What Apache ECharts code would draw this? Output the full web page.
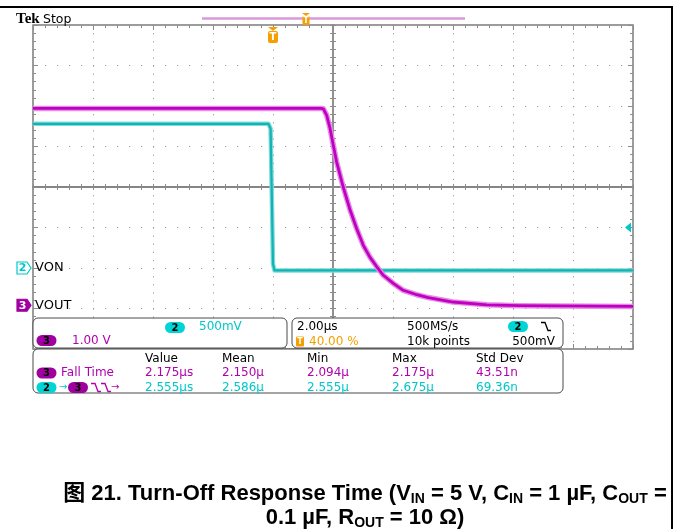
<!DOCTYPE html>
<html>
<head>
<meta charset="utf-8">
<title>Turn-Off Response Time</title>
<script src="https://cdn.jsdelivr.net/npm/echarts@6/dist/echarts.min.js"></script>
<style>
  html, body { margin: 0; padding: 0; background: #fff; }
  #scope { width: 677px; height: 529px; }
</style>
</head>
<body>
<div id="scope"></div>
<script>
// ch2 VON (time in us from trigger, volts)
const vonTime = [-8, -0.15, -0.08, -0.04, 0.0, 0.05, 12];
const vonVolts = [1.78, 1.78, 1.72, 0.9, 0.05, -0.03, -0.03];
// ch3 VOUT
const voutTime = [-8, 1.6, 1.68, 1.79, 1.9, 2.01, 2.12, 2.34, 2.57, 2.79, 3.01, 3.23, 3.46, 3.68, 4.01, 4.34, 4.79, 5.18, 6.0, 7.13, 8.23, 12];
const voutVolts = [4.86, 4.86, 4.85, 4.69, 4.37, 3.95, 3.54, 2.92, 2.35, 1.89, 1.48, 1.19, 0.95, 0.74, 0.54, 0.37, 0.26, 0.19, 0.08, 0.01, -0.01, -0.03];
// measurement readout
const statHeaders = ['Value', 'Mean', 'Min', 'Max', 'Std Dev'];
const fallTimeStats = ['2.175µs', '2.150µ', '2.094µ', '2.175µ', '43.51n'];
const delayStats = ['2.555µs', '2.586µ', '2.555µ', '2.675µ', '69.36n'];
const triggerLevel = 0.5; // V on ch2

// scope settings
const timeMin = -8; // 2us/div, trigger at 40 %
const timeMax = 12;
const ch2 = { scale: 0.5, groundDiv: -2 };
const ch3 = { scale: 1.0, groundDiv: -2.92 };

const MAG = '#b000b0';
const CYAN = '#00c8c8';
const ORANGE = '#f5a000';
const FONT = '"DejaVu Sans", sans-serif';

const chart = echarts.init(document.getElementById('scope'));

function divAxis(range, extra) {
  return Object.assign({
    type: 'value', min: -range, max: range, interval: 1,
    axisLabel: { show: false },
    axisLine: { show: false, onZero: false },
    axisTick: { show: false },
    minorTick: { show: false },
    splitLine: { show: false }
  }, extra);
}
const tickStyle = { color: '#8c8c8c', width: 1 };
const borderTicks = {
  axisTick: { show: true, inside: true, length: 5, lineStyle: tickStyle },
  minorTick: { show: true, splitNumber: 5, length: 3, lineStyle: tickStyle }
};
function centerAxis(inside, showLine) {
  return {
    axisLine: { show: showLine, onZero: true, onZeroAxisIndex: 0, lineStyle: { color: '#858585', width: 1.8 } },
    axisTick: { show: true, inside: inside, length: 3, lineStyle: tickStyle },
    minorTick: { show: true, splitNumber: 5, length: 3, lineStyle: tickStyle }
  };
}
function chAxis(ch) {
  return {
    type: 'value', show: false,
    min: (-4 - ch.groundDiv) * ch.scale,
    max: (4 - ch.groundDiv) * ch.scale,
    axisLine: { onZero: false }
  };
}
function trace(times, volts, yIdx, color, width) {
  return {
    type: 'line', xAxisIndex: 4, yAxisIndex: yIdx,
    data: times.map((t, i) => [t, volts[i]]),
    symbol: 'none', silent: true,
    lineStyle: { color: color, width: width, join: 'round' }
  };
}

chart.setOption({
  animation: false,
  backgroundColor: '#fff',
  grid: {
    left: 33, top: 25, width: 600, height: 324,
    show: true, borderColor: '#7c7c7c', borderWidth: 1.5,
    outerBoundsMode: 'none'
  },
  xAxis: [
    divAxis(5, Object.assign({ position: 'top',
      splitLine: { show: true, lineStyle: { color: '#9c9c9c', width: 1, type: [1.2, 6.9] } } }, borderTicks)),
    divAxis(5, Object.assign({ position: 'bottom' }, borderTicks)),
    divAxis(5, Object.assign({ position: 'bottom' }, centerAxis(true, true))),
    divAxis(5, Object.assign({ position: 'bottom' }, centerAxis(false, false))),
    { type: 'value', show: false, min: timeMin, max: timeMax, axisLine: { onZero: false } }
  ],
  yAxis: [
    divAxis(4, Object.assign({ position: 'left',
      splitLine: { show: true, lineStyle: { color: '#9c9c9c', width: 1, type: [1.2, 10.8] } } }, borderTicks)),
    divAxis(4, Object.assign({ position: 'right' }, borderTicks)),
    divAxis(4, Object.assign({ position: 'left' }, centerAxis(true, true))),
    divAxis(4, Object.assign({ position: 'left' }, centerAxis(false, false))),
    chAxis(ch2),
    chAxis(ch3)
  ],
  series: [
    trace(vonTime, vonVolts, 4, '#7edcdc', 4.5),
    trace(vonTime, vonVolts, 4, '#14b2b2', 2.2),
    trace(voutTime, voutVolts, 5, '#e58ee5', 5.5),
    trace(voutTime, voutVolts, 5, '#c000c0', 2.8)
  ]
});

// overlays: markers, readout boxes, caption
const trigX = chart.convertToPixel({ xAxisIndex: 4 }, 0);
const gnd2 = chart.convertToPixel({ yAxisIndex: 4 }, 0);
const gnd3 = chart.convertToPixel({ yAxisIndex: 5 }, 0);
const trigY = chart.convertToPixel({ yAxisIndex: 4 }, triggerLevel);

function txt(x, y, s, color, extra) {
  return { type: 'text', z: 11, style: Object.assign({ text: s, x: x, y: y, fill: color, font: '12px ' + FONT, verticalAlign: 'middle' }, extra) };
}
function pill(cx, cy, color, label) {
  return [
    { type: 'rect', z: 11, shape: { x: cx - 10, y: cy - 5.5, width: 20, height: 11, r: 5.5 }, style: { fill: color } },
    txt(cx, cy + 0.5, label, '#000', { align: 'center', font: 'bold 10px ' + FONT })
  ];
}
function box(x, y, w, h) {
  return { type: 'rect', z: 10, shape: { x: x, y: y, width: w, height: h, r: 5 }, style: { fill: '#fff', stroke: '#4a4a4a', lineWidth: 1 } };
}
function fallEdge(x, y, color) {
  return { type: 'polyline', z: 11, shape: { points: [[x, y - 4], [x + 4, y - 4], [x + 7, y + 4], [x + 10, y + 4]] }, style: { stroke: color, lineWidth: 1.3, fill: null } };
}
function gndMarker(y, label, color, filled) {
  return [
    { type: 'polygon', z: 11, shape: { points: [[17, y - 6], [27, y - 6], [31, y], [27, y + 6], [17, y + 6]] },
      style: { fill: filled ? color : '#fff', stroke: color, lineWidth: 1.2 } },
    txt(22.5, y + 0.5, label, filled ? '#fff' : color, { align: 'center', font: 'bold 11px ' + FONT })
  ];
}

const capRich = {
  a: { fontFamily: '"Liberation Sans", Arial, "Noto Sans CJK SC", sans-serif', fontWeight: 'bold', fontSize: 22, lineHeight: 25, fill: '#000' },
  s: { fontFamily: '"Liberation Sans", Arial, sans-serif', fontWeight: 'bold', fontSize: 14, lineHeight: 14, verticalAlign: 'bottom', fill: '#000' }
};

const statX = [145, 222, 307, 392, 476];
let g = [
  // frame
  { type: 'line', z: 12, shape: { x1: 0, y1: 7, x2: 673, y2: 7 }, style: { stroke: '#000', lineWidth: 2 } },
  { type: 'line', z: 12, shape: { x1: 672, y1: 7, x2: 672, y2: 529 }, style: { stroke: '#000', lineWidth: 2 } },
  txt(16, 19, 'Tek', '#000', { font: 'bold 15px "Liberation Serif", serif' }),
  txt(43, 19.5, 'Stop', '#000', { font: '12.5px ' + FONT }),
  // record view bar
  { type: 'line', z: 11, shape: { x1: 202, y1: 18.5, x2: 465, y2: 18.5 }, style: { stroke: '#d99ad9', lineWidth: 2.5 } },
  { type: 'polygon', z: 11, shape: { points: [[302, 13], [310, 13], [306, 16]] }, style: { fill: ORANGE } },
  { type: 'rect', z: 11, shape: { x: 302.5, y: 16, width: 7, height: 9, r: 1 }, style: { fill: ORANGE } },
  txt(306, 21, 'T', '#fff', { align: 'center', font: 'bold 8px ' + FONT }),
  // trigger position
  { type: 'polygon', z: 11, shape: { points: [[trigX - 5, 27], [trigX + 5, 27], [trigX, 31]] }, style: { fill: ORANGE } },
  { type: 'rect', z: 11, shape: { x: trigX - 5, y: 31, width: 10, height: 12, r: 2 }, style: { fill: ORANGE } },
  txt(trigX, 37.5, 'T', '#fff', { align: 'center', font: 'bold 10px ' + FONT }),
  // trigger level
  { type: 'polygon', z: 11, shape: { points: [[625, trigY], [631, trigY - 5], [631, trigY + 5]] }, style: { fill: CYAN } },
  txt(35, gnd2, 'VON', '#000', { font: '13px ' + FONT }),
  txt(35, gnd3, 'VOUT', '#000', { font: '13px ' + FONT }),
  // channel box
  box(33, 318, 254, 30),
  txt(199, 327, '500mV', CYAN),
  txt(72, 340.5, '1.00 V', MAG),
  // horizontal box
  box(292, 318, 271, 30),
  txt(297, 326.5, '2.00µs', '#000'),
  { type: 'rect', z: 11, shape: { x: 296, y: 336.5, width: 8, height: 10, r: 1 }, style: { fill: ORANGE } },
  txt(300, 342, 'T', '#fff', { align: 'center', font: 'bold 8px ' + FONT }),
  txt(309, 341.5, '40.00 %', ORANGE),
  txt(407, 326.5, '500MS/s', '#000'),
  txt(407, 341.5, '10k points', '#000'),
  fallEdge(541, 326.5, '#000'),
  txt(555, 341.5, '500mV', '#000', { align: 'right' }),
  // measurements box
  box(33, 349, 530, 44),
  txt(61, 373, 'Fall Time', MAG),
  txt(59, 387.5, '→', CYAN, { font: '10px ' + FONT }),
  fallEdge(91, 387.5, MAG),
  fallEdge(101, 387.5, MAG),
  txt(111, 387.5, '→', MAG, { font: '10px ' + FONT }),
  // caption
  { type: 'text', z: 11, style: {
      x: 365, y: 494, align: 'center', verticalAlign: 'middle',
      text: '{a|图 21. Turn-Off Response Time (V}{s|IN}{a| = 5 V, C}{s|IN}{a| = 1 µF, C}{s|OUT}{a| =}',
      rich: capRich } },
  { type: 'text', z: 11, style: {
      x: 365, y: 518, align: 'center', verticalAlign: 'middle',
      text: '{a|0.1 µF, R}{s|OUT}{a| = 10 Ω)}',
      rich: capRich } }
];
g = g.concat(gndMarker(gnd2, '2', CYAN, false), gndMarker(gnd3, '3', '#a000a0', true));
g = g.concat(pill(175, 327.5, '#00d4d4', '2'), pill(46.5, 340.5, '#a000a0', '3'));
g = g.concat(pill(518, 326.5, '#00d4d4', '2'));
g = g.concat(pill(46.5, 373, '#a000a0', '3'), pill(46.5, 387.5, '#00d4d4', '2'), pill(78, 387.5, '#a000a0', '3'));
statHeaders.forEach((h, i) => {
  g.push(txt(statX[i], 359, h, '#000'));
  g.push(txt(statX[i], 373, fallTimeStats[i], MAG));
  g.push(txt(statX[i], 387.5, delayStats[i], CYAN));
});

chart.setOption({ graphic: g });
</script>
</body>
</html>
